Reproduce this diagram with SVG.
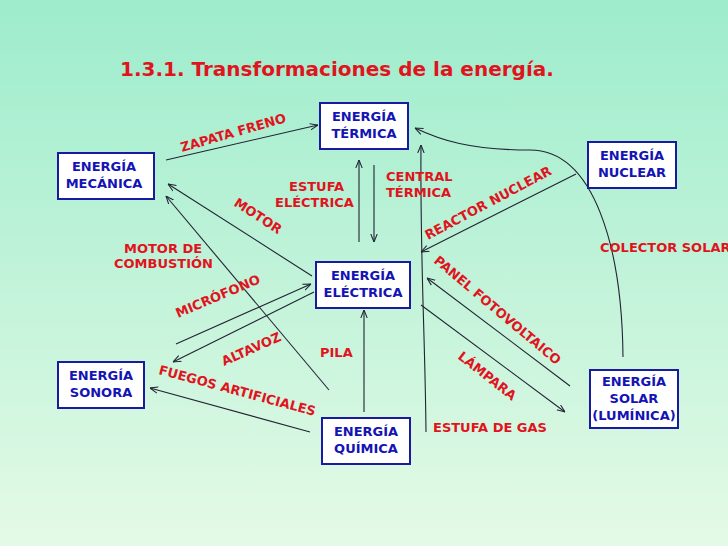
<svg xmlns="http://www.w3.org/2000/svg" width="728" height="546" viewBox="0 0 728 546">
<defs>
<linearGradient id="bg" x1="0" y1="0" x2="0" y2="1"><stop offset="0" stop-color="#9deccc"/><stop offset="1" stop-color="#e4fae6"/></linearGradient>
<marker id="a" viewBox="0 0 10 10" refX="10" refY="5" markerWidth="8" markerHeight="8" orient="auto" markerUnits="userSpaceOnUse"><path d="M0,1 L10,5 L0,9" fill="none" stroke="#223" stroke-width="1.3"/></marker>
<style>
.box{fill:#fff;stroke:#1a1aa0;stroke-width:2}
.bt{font-family:"DejaVu Sans",sans-serif;font-weight:bold;font-size:13px;fill:#1414b4;text-anchor:middle}
.lb{font-family:"DejaVu Sans",sans-serif;font-weight:bold;font-size:13px;fill:#e0141e}
.c path{fill:none;stroke:#223;stroke-width:1.1;marker-end:url(#a)}
</style>
</defs>
<rect width="728" height="546" fill="url(#bg)"/>
<text x="120" y="76" font-family="'DejaVu Sans',sans-serif" font-weight="bold" font-size="20" fill="#e0141e">1.3.1. Transformaciones de la energía.</text>
<g class="c">
<path d="M166,160 L318,125"/>
<path d="M312,276 L168,184"/>
<path d="M329,390 L166,196"/>
<path d="M176,344 L311,284"/>
<path d="M314,292 L173,362"/>
<path d="M310,432 L150,388"/>
<path d="M364,412 L364,310"/>
<path d="M359,242 L359,160"/>
<path d="M374,165 L374,242"/>
<path d="M426,432 C425,330 420,260 421,145"/>
<path d="M576,174 L421,252"/>
<path d="M623,357 C622,250 595,150 530,150 C470,150 440,140 415,128"/>
<path d="M570,386 L427,278"/>
<path d="M421,305 L565,412"/>
</g>
<g id="termica"><rect class="box" x="320" y="103" width="88" height="46"/><text class="bt" x="364" y="121">ENERGÍA</text><text class="bt" x="364" y="138">TÉRMICA</text></g>
<g id="mecanica"><rect class="box" x="58" y="153" width="96" height="46"/><text class="bt" x="104" y="171">ENERGÍA</text><text class="bt" x="104" y="188">MECÁNICA</text></g>
<g id="nuclear"><rect class="box" x="588" y="142" width="88" height="46"/><text class="bt" x="632" y="160">ENERGÍA</text><text class="bt" x="632" y="177">NUCLEAR</text></g>
<g id="electrica"><rect class="box" x="316" y="262" width="94" height="46"/><text class="bt" x="363" y="280">ENERGÍA</text><text class="bt" x="363" y="297">ELÉCTRICA</text></g>
<g id="sonora"><rect class="box" x="58" y="362" width="86" height="46"/><text class="bt" x="101" y="380">ENERGÍA</text><text class="bt" x="101" y="397">SONORA</text></g>
<g id="quimica"><rect class="box" x="322" y="418" width="88" height="46"/><text class="bt" x="366" y="436">ENERGÍA</text><text class="bt" x="366" y="453">QUÍMICA</text></g>
<g id="solar"><rect class="box" x="590" y="370" width="88" height="58"/><text class="bt" x="634" y="386">ENERGÍA</text><text class="bt" x="634" y="403">SOLAR</text><text class="bt" x="634" y="420">(LUMÍNICA)</text></g>
<g id="labels">
<text class="lb" transform="translate(182,152) rotate(-16)">ZAPATA FRENO</text>
<text class="lb" transform="translate(233,205) rotate(33)">MOTOR</text>
<text class="lb" x="124" y="253">MOTOR DE</text>
<text class="lb" x="114" y="268">COMBUSTIÓN</text>
<text class="lb" transform="translate(178,318) rotate(-23)">MICRÓFONO</text>
<text class="lb" transform="translate(224,366) rotate(-24)">ALTAVOZ</text>
<text class="lb" transform="translate(158,374) rotate(15)">FUEGOS ARTIFICIALES</text>
<text class="lb" x="320" y="357">PILA</text>
<text class="lb" x="289" y="191">ESTUFA</text>
<text class="lb" x="275" y="207">ELÉCTRICA</text>
<text class="lb" x="386" y="181">CENTRAL</text>
<text class="lb" x="386" y="197">TÉRMICA</text>
<text class="lb" transform="translate(428,240) rotate(-28)">REACTOR NUCLEAR</text>
<text class="lb" x="600" y="252">COLECTOR SOLAR</text>
<text class="lb" transform="translate(433,262) rotate(40)">PANEL FOTOVOLTAICO</text>
<text class="lb" transform="translate(457,358) rotate(38)">LÁMPARA</text>
<text class="lb" x="433" y="432">ESTUFA DE GAS</text>
</g>
</svg>
